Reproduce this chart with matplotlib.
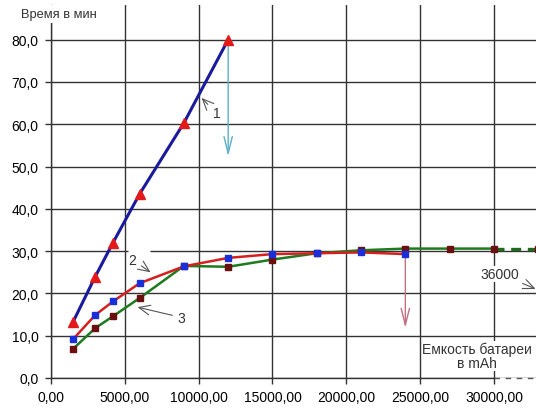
import matplotlib
matplotlib.use("Agg")
import matplotlib.pyplot as plt

plt.rcParams['font.family'] = ['Liberation Sans', 'DejaVu Sans']

# ---- data ----
x1 = [1500, 3000, 4200, 6000, 9000, 12000]
y1 = [13.3, 24.0, 32.0, 43.5, 60.3, 80.0]

x2 = [1500, 3000, 4200, 6000, 9000, 12000, 15000, 18000, 21000, 24000]
y2 = [9.2, 14.9, 18.1, 22.4, 26.4, 28.4, 29.3, 29.5, 29.7, 29.3]

x3 = [1500, 3000, 4200, 6000, 9000, 12000, 15000, 18000, 21000, 24000, 27000, 30000]
y3 = [6.9, 11.8, 14.6, 18.9, 26.5, 26.3, 28.0, 29.5, 30.2, 30.6, 30.6, 30.6]

x3_ext = [30000, 33000, 36000]
y3_ext = [30.6, 30.6, 30.6]

xticks = [0, 5000, 10000, 15000, 20000, 25000, 30000]
yticks = [0, 10, 20, 30, 40, 50, 60, 70, 80]

fig = plt.figure(figsize=(5.36, 4.10), dpi=100)
ax = fig.add_axes([51/536, 31/410, 485/536, 373/410])

ax.set_xticks(xticks)
ax.set_yticks(yticks)
ax.set_xticklabels([f"{v:.2f}".replace('.', ',') for v in xticks], fontsize=10)
ax.set_yticklabels([f"{v:.1f}".replace('.', ',') for v in yticks], fontsize=10)
ax.tick_params(direction='out', length=4, width=1, color='#333333')
ax.tick_params(axis='y', pad=5)
ax.tick_params(axis='x', pad=5)

ax.grid(True, color='#333333', lw=1.0)
for s in ['top', 'right']:
    ax.spines[s].set_visible(False)
for s in ['left', 'bottom']:
    ax.spines[s].set_color('#333333')
    ax.spines[s].set_linewidth(1.0)
ax.spines['bottom'].set_bounds(0, 30000)
ax.plot([30000, 32850], [0, 0], color='#555555', lw=1.0, ls=(0, (4, 4)), clip_on=False)

# white gap in the 30 gridline behind label "2"
ax.plot([5200, 6700], [30, 30], color='white', lw=2.5, zorder=2, solid_capstyle='butt')

# series
ax.plot(x1, y1, color='#1a1a9c', lw=2.2, zorder=4)
ax.plot(x1, y1, ls='none', marker='^', ms=7.5, color='#e41a1a', zorder=5)

ax.plot(x3, y3, color='#1e7a1e', lw=1.8, zorder=4)
ax.plot(x3_ext, y3_ext, color='#1e6a1e', lw=2.4, ls=(0, (3, 2)), zorder=4)
ax.plot(x3 + x3_ext[1:], y3 + y3_ext[1:], ls='none', marker='s', ms=4.5, color='#6b1010', zorder=5)

ax.plot(x2, y2, color='#d62020', lw=1.8, zorder=4)
ax.plot(x2, y2, ls='none', marker='s', ms=4.5, color='#1a2fd8', zorder=6)

# vertical arrows
ax.annotate('', xy=(12000, 51.8), xytext=(12000, 80),
            arrowprops=dict(arrowstyle='->,head_length=1.2,head_width=0.3', color='#5ab0c6', lw=1.0))
ax.annotate('', xy=(24000, 11.2), xytext=(24000, 29.3),
            arrowprops=dict(arrowstyle='->,head_length=1.2,head_width=0.3', color='#c07080', lw=1.0))

# curve labels
ap = dict(arrowstyle='->,head_length=0.8,head_width=0.35', color='#555555', lw=0.8)
ax.annotate('1', xy=(10070, 66.7), xytext=(11200, 62.6), fontsize=10, color='#333333',
            ha='center', va='center', arrowprops=ap)
ax.annotate('2', xy=(6900, 24.6), xytext=(5520, 28.0), fontsize=10, color='#333333',
            ha='center', va='center', arrowprops=ap)
ax.annotate('3', xy=(5680, 16.9), xytext=(8850, 14.3), fontsize=10, color='#333333',
            ha='center', va='center', arrowprops=ap)
ax.annotate('36000', xy=(33000, 20.8), xytext=(30430, 24.6), fontsize=10, color='#333333',
            ha='center', va='center', annotation_clip=False, zorder=7,
            bbox=dict(boxstyle='square,pad=0.1', fc='white', ec='none'),
            arrowprops=dict(arrowstyle='->,head_length=0.8,head_width=0.35', color='#555555', lw=0.8))

ax.text(28850, 5.2, 'Емкость батареи\nв mAh', fontsize=10, color='#333333', ha='center', va='center',
        linespacing=1.0, bbox=dict(boxstyle='square,pad=0.03', fc='white', ec='none'), zorder=7)

fig.text(21/536, 1 - 15/410, 'Время в мин', fontsize=9.3, color='#333333', ha='left', va='center',
         bbox=dict(boxstyle='square,pad=0.2', fc='white', ec='none'), zorder=10)

ax.set_xlim(0, 32850)
ax.set_ylim(0, 88.2)

fig.savefig('out.png', dpi=100)
